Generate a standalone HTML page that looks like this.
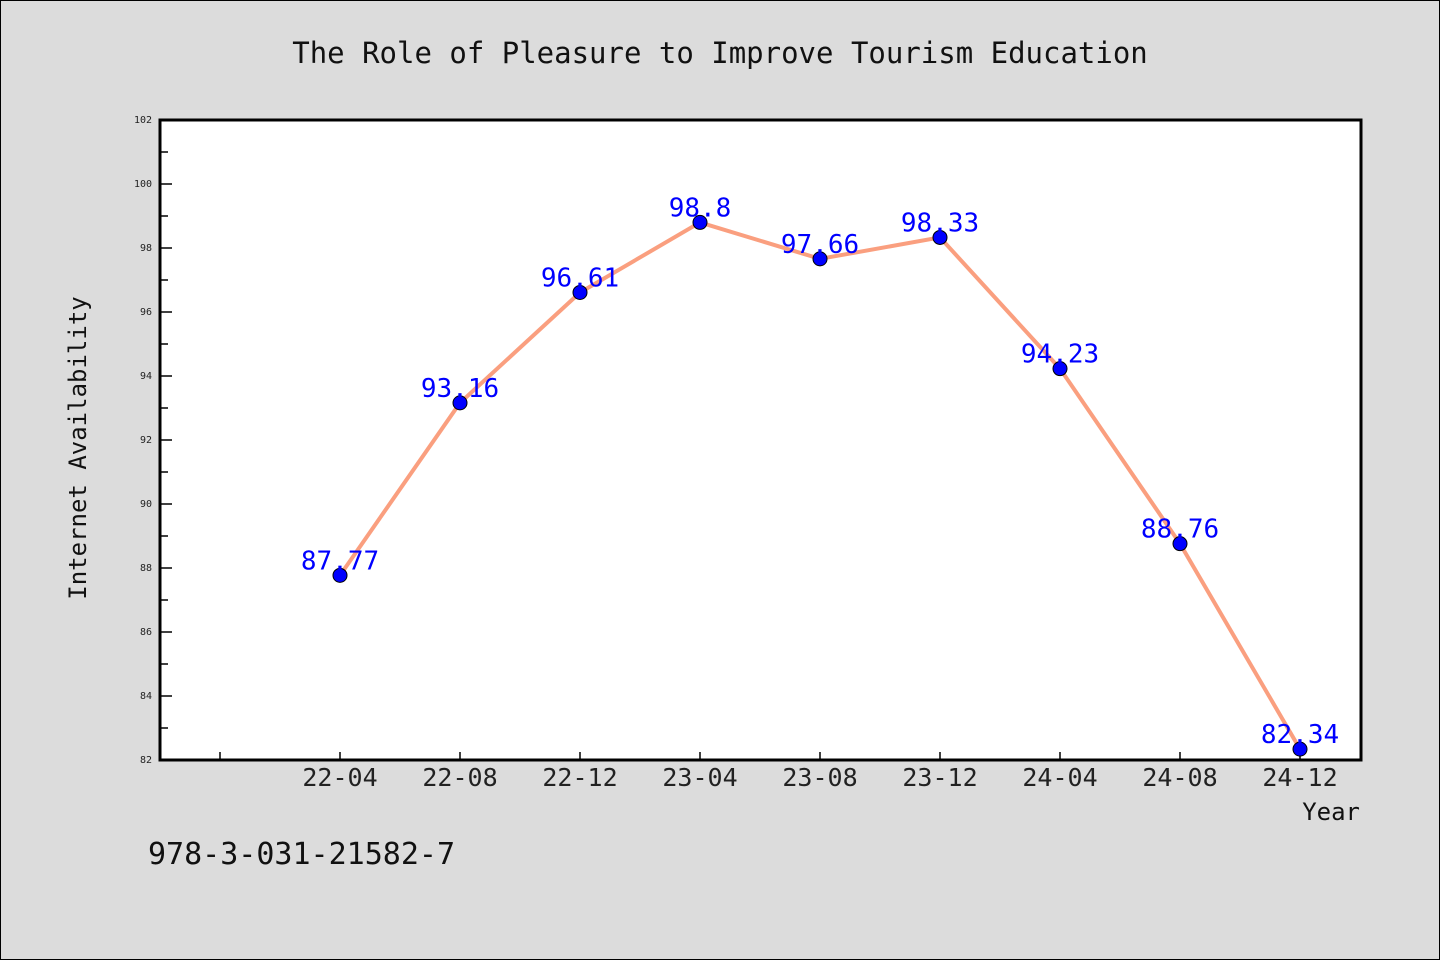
<!DOCTYPE html>
<html><head><meta charset="utf-8"><style>
body{margin:0;background:#dcdcdc}
svg{display:block}
text{font-family:"DejaVu Sans Mono","Liberation Mono",monospace}
</style></head><body>
<svg id="c" width="1440" height="960">
<rect x="0.5" y="0.5" width="1439" height="959" fill="#dcdcdc" stroke="#000"/>
<text x="720" y="63" font-size="29" text-anchor="middle" fill="#111">The Role of Pleasure to Improve Tourism Education</text>
<rect x="160" y="120" width="1201" height="640" fill="#fff" stroke="#000" stroke-width="3"/>
<text transform="translate(86,448) rotate(-90)" font-size="24" text-anchor="middle" fill="#111">Internet Availability</text>
<text x="1360" y="820" font-size="24" text-anchor="end" fill="#111">Year</text>
<text x="148" y="864" font-size="30" fill="#111">978-3-031-21582-7</text>
<g id="ax"></g><g id="marks"></g>
</svg>
<script>
const categories=["22-04","22-08","22-12","23-04","23-08","23-12","24-04","24-08","24-12"];
const values=[87.77,93.16,96.61,98.8,97.66,98.33,94.23,88.76,82.34];
const valueLabels=["87.77","93.16","96.61","98.8","97.66","98.33","94.23","88.76","82.34"];
const yTicks=[82,84,86,88,90,92,94,96,98,100,102];
const yMin=82,yMax=102,yTop=120,yBot=760;
const ns="http://www.w3.org/2000/svg";
function sy(v){return yBot-(v-yMin)/(yMax-yMin)*(yBot-yTop);}
function sx(i){return 340+120*i;}
function mk(t,a,p){const e=document.createElementNS(ns,t);for(const k in a)e.setAttribute(k,a[k]);p.appendChild(e);return e;}
const ax=document.getElementById('ax'),mg=document.getElementById('marks');
yTicks.forEach((v,i)=>{
 const l=mk('line',{x1:160,x2:172,y1:sy(v),y2:sy(v),stroke:'#000','stroke-width':1.5},ax);
 
 
 if(i<yTicks.length-1){const m=mk('line',{x1:160,x2:168,y1:(sy(v)+sy(yTicks[i+1]))/2,y2:(sy(v)+sy(yTicks[i+1]))/2,stroke:'#000','stroke-width':1.5},ax);
 
 }
 const t=mk('text',{x:152,y:sy(v)+3,'font-size':10,'text-anchor':'end',fill:'#222','font-family':'DejaVu Sans, sans-serif'},ax);t.textContent=v;
 
 
});
for(let i=-1;i<categories.length;i++){
 const l=mk('line',{x1:sx(i),x2:sx(i),y1:760,y2:752,stroke:'#000','stroke-width':1.5},ax);
 
 
 if(i>=0){const t=mk('text',{x:sx(i),y:786,'font-size':25,'text-anchor':'middle',fill:'#222'},ax);t.textContent=categories[i];
 
 }
}
const pl=mk('polyline',{points:values.map((v,i)=>sx(i)+','+sy(v)).join(' '),fill:'none',stroke:'#fa9f7f','stroke-width':4},mg);


values.forEach((v,i)=>{
 const c=mk('circle',{cx:sx(i),cy:sy(v),r:7,fill:'#0000ff',stroke:'#000','stroke-width':1},mg);
 
 
});
values.forEach((v,i)=>{
 const t=mk('text',{x:sx(i),y:sy(v)-6,'font-size':26,'text-anchor':'middle',fill:'#0000ff'},mg);t.textContent=valueLabels[i];
 
 
});
</script>
</body></html>
